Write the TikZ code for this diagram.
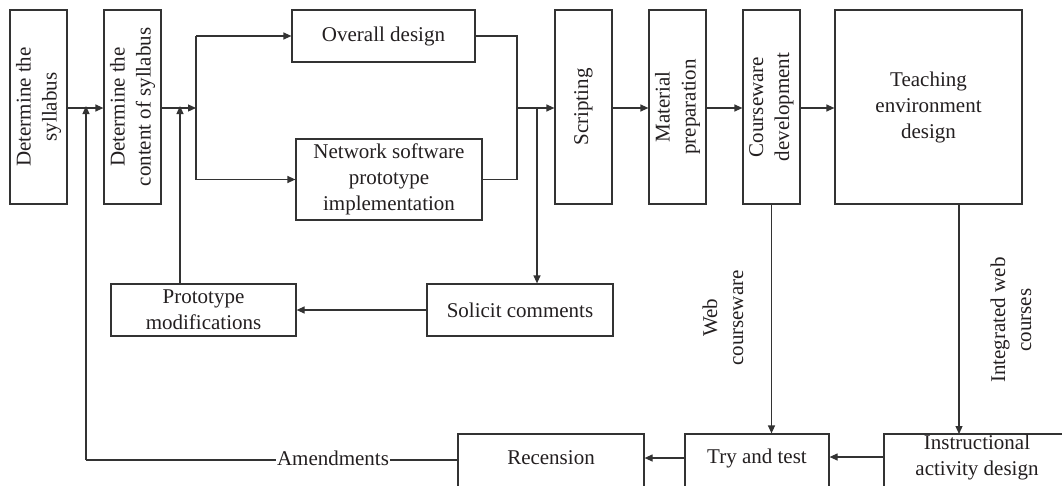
\documentclass[tikz,border=0pt]{standalone}
\usepackage{fontspec}
\setmainfont{Liberation Serif}
\usetikzlibrary{arrows.meta}
\definecolor{ink}{HTML}{231F20}
\definecolor{lin}{HTML}{333333}
\begin{document}
\begin{tikzpicture}[x=1pt,y=-1pt,
  box/.style={draw=lin, line width=1.2pt, fill=white, inner sep=0pt, text=ink, align=center, font=\fontsize{21}{26}\selectfont},
  txt/.style={text=ink, align=center, inner sep=0pt, font=\fontsize{21}{26}\selectfont},
  conn/.style={draw=lin, line width=1.2pt},
  arr/.style={conn, -{Triangle[length=8pt,width=7pt]}}]
\useasboundingbox (0,0) rectangle (1062,485);
\clip (0,0) rectangle (1062,485);
% top row boxes
\node[box, minimum width=57, minimum height=194] (b1) at (38.5,107) {};
\node[txt, rotate=90] (t1) at (b1) {Determine the\\syllabus};
\node[box, minimum width=57, minimum height=194] (b2) at (132.5,107) {};
\node[txt, rotate=90] (t2) at (b2) {Determine the\\content of syllabus};
\node[box, minimum width=183, minimum height=52] (ov) at (383.5,36) {Overall design};
\node[box, minimum width=186, minimum height=81] (nw) at (389,179.5) {Network software\\prototype\\implementation};
\node[box, minimum width=57, minimum height=194] (sc) at (583.5,107) {};
\node[txt, rotate=90] (t3) at (sc) {Scripting};
\node[box, minimum width=57, minimum height=194] (mp) at (677.5,107) {};
\node[txt, rotate=90] (t4) at (mp) {Material\\preparation};
\node[box, minimum width=57, minimum height=194] (cd) at (771.5,107) {};
\node[txt, rotate=90] (t5) at (cd) {Courseware\\development};
\node[box, minimum width=187, minimum height=194] (te) at (928.5,107) {Teaching\\environment\\design};
% middle row
\node[box, minimum width=186, minimum height=52] (so) at (520,310) {Solicit comments};
\node[box, minimum width=185, minimum height=52] (pm) at (203.5,310) {Prototype\\modifications};
% bottom row
\node[box, minimum width=186, minimum height=60] (re) at (551,464) {};
\node[txt] (t6) at (551,458) {Recension};
\node[box, minimum width=144, minimum height=60] (tt) at (757,464) {};
\node[txt] (t7) at (757,458) {Try and test};
\node[box, minimum width=186, minimum height=60] (ia) at (977,464) {};
\node[txt] (t8) at (977,457) {Instructional\\activity design};
% labels
\node[txt, rotate=90] (l1) at (723,318) {Web\\courseware};
\node[txt, rotate=90] (l2) at (1011,320) {Integrated web\\courses};
% coordinates
\coordinate (j1) at (86,108);
\coordinate (j2) at (180,108);
\coordinate (j3) at (196,108);
\coordinate (j4) at (517,108);
\coordinate (j5) at (537,108);
% connectors
\draw[arr] (b1.east |- j1) -- (b2.west |- j1);
\draw[arr] (b2.east |- j3) -- (j3);
\draw[conn] (j3 |- ov.west) -- (j3 |- nw.west);
\draw[arr] (j3 |- ov.west) -- (ov.west);
\draw[arr] (j3 |- nw.west) -- (nw.west);
\draw[conn] (ov.east) -- (j4 |- ov.east) -- (j4 |- nw.east) -- (nw.east);
\draw[arr] (j4) -- (sc.west |- j4);
\draw[arr] (j5) -- (j5 |- so.north);
\draw[arr] (so.west) -- (pm.east);
\draw[arr] (j2 |- pm.north) -- ([yshift=2pt]j2);
\draw[arr] (sc.east |- j1) -- (mp.west |- j1);
\draw[arr] (mp.east |- j1) -- (cd.west |- j1);
\draw[arr] (cd.east |- j1) -- (te.west |- j1);
\draw[arr] (cd.south) -- (cd.south |- tt.north);
\draw[arr] (959,204) -- (959,434);
\draw[arr] (ia.west |- 0,457) -- (tt.east |- 0,457);
\draw[arr] (tt.west |- 0,458) -- (re.east |- 0,458);
\draw[conn] (re.west |- 0,460) -- (j1 |- 0,460);
\draw[arr] (j1 |- 0,460) -- ([yshift=2pt]j1);
\node[txt, fill=white, inner sep=1pt] (am) at (333,458) {Amendments};
\end{tikzpicture}
\end{document}
